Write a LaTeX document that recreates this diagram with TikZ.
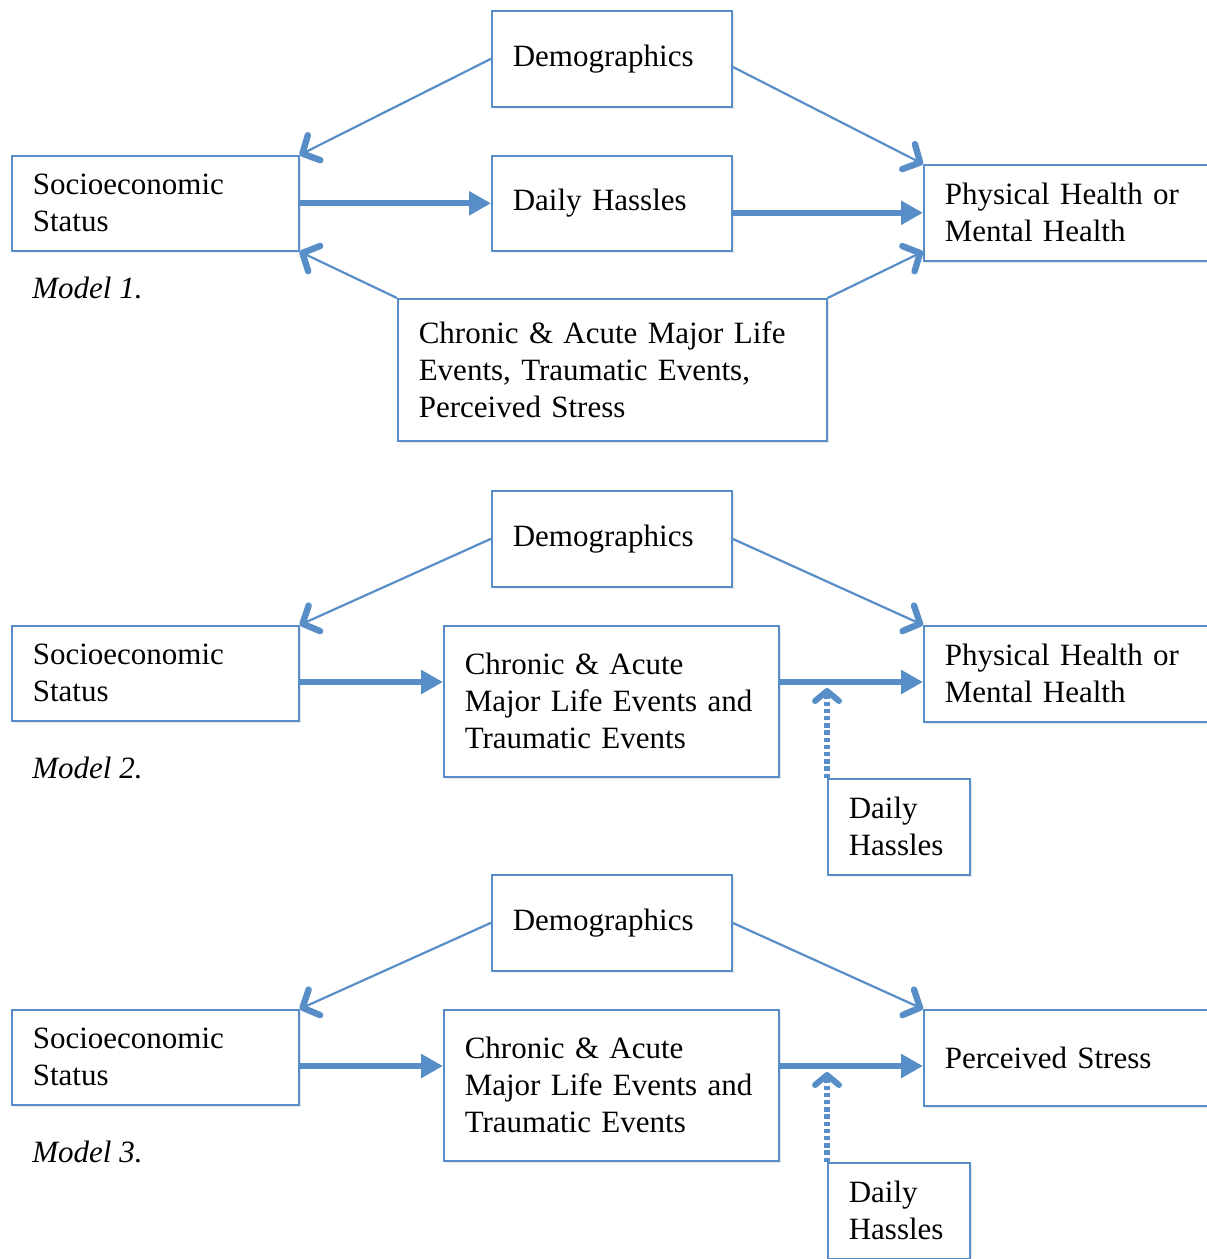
\documentclass[tikz,border=0pt]{standalone}
\usepackage{fontspec}
\setmainfont{Liberation Serif}
\usetikzlibrary{arrows.meta,shadows}
\definecolor{boxblue}{RGB}{88,142,200}
\tikzset{
  box/.style={draw=boxblue, line width=0.8pt, fill=white, anchor=north west, inner xsep=10.5pt, inner ysep=0pt, align=left, font=\fontsize{15.5}{18.5}\selectfont, drop shadow={opacity=0.18, shadow xshift=1pt, shadow yshift=-1.2pt}},
  caption/.style={anchor=base west, inner sep=0, font=\fontsize{15.5}{18.5}\selectfont\itshape},
  barbtip/.tip={Straight Barb[length=6.5pt, width=14pt, line width=3.2pt 0 0, round]},
  dottip/.tip={Straight Barb[length=5pt, width=12pt, line width=3pt 0 0, round]},
  link/.style={draw=boxblue, line width=1.1pt, -barbtip},
  mainlink/.style={draw=boxblue, line width=3pt, -{Triangle[length=11pt,width=11.5pt]}},
  dotlink/.style={draw=boxblue, line width=3pt, line cap=butt, dash pattern=on 2.2pt off 1.4pt, -dottip}
}

\begin{document}
\begin{tikzpicture}[x=0.5pt,y=-0.5pt]
\useasboundingbox (0,0) rectangle (1206,1259);
% Model 1
\node[box, text width=99pt, minimum height=48pt] (demoA) at (491,10) {Demographics};
\node[box, text width=122.5pt, minimum height=47.5pt] (sesA) at (11,155) {Socioeconomic\\Status};
\node[box, text width=99pt, minimum height=47.5pt] (dhA) at (491,155) {Daily Hassles};
\node[box, text width=132pt, minimum height=48pt] (phA) at (923,164) {Physical Health or\\Mental Health};
\node[box, text width=193.5pt, minimum height=71pt] (chA) at (397,298) {Chronic \& Acute Major Life\\Events, Traumatic Events,\\Perceived Stress};
\node[caption] (capA) at (32,298) {Model 1.};
\draw[link] (demoA.west)--(sesA.north east);
\draw[link] ([yshift=-4pt]demoA.east)--(phA.north west);
\draw[mainlink] (sesA.east)--(dhA.west);
\draw[mainlink] (dhA.east |- phA.west)--(phA.west);
\draw[link] (chA.north west)--(sesA.south east);
\draw[link] (chA.north east)--([yshift=5pt]phA.south west);
% Model 2
\node[box, text width=99pt, minimum height=48pt] (demoB) at (491,490) {Demographics};
\node[box, text width=122.5pt, minimum height=47.5pt] (sesB) at (11,625) {Socioeconomic\\Status};
\node[box, text width=146.5pt, minimum height=75.5pt] (chB) at (443,625) {Chronic \& Acute\\Major Life Events and\\Traumatic Events};
\node[box, text width=132pt, minimum height=48pt] (phB) at (923,625) {Physical Health or\\Mental Health};
\node[box, text width=50pt, minimum height=48pt] (dhB) at (827,778) {Daily\\Hassles};
\node[caption] (capB) at (32,778) {Model 2.};
\coordinate (midB) at (0,682);
\draw[link] (demoB.west)--(sesB.north east);
\draw[link] (demoB.east)--(phB.north west);
\draw[mainlink] (sesB.east |- midB)--(chB.west |- midB);
\draw[mainlink] (chB.east |- midB)--(phB.west |- midB);
\draw[dotlink] (dhB.north west)--([yshift=-3pt]dhB.north west |- midB);
% Model 3
\node[box, text width=99pt, minimum height=48pt] (demoC) at (491,874) {Demographics};
\node[box, text width=122.5pt, minimum height=47.5pt] (sesC) at (11,1009) {Socioeconomic\\Status};
\node[box, text width=146.5pt, minimum height=75.5pt] (chC) at (443,1009) {Chronic \& Acute\\Major Life Events and\\Traumatic Events};
\node[box, text width=132pt, minimum height=48pt] (psC) at (923,1009) {Perceived Stress};
\node[box, text width=50pt, minimum height=48pt] (dhC) at (827,1162) {Daily\\Hassles};
\node[caption] (capC) at (32,1162) {Model 3.};
\coordinate (midC) at (0,1066);
\draw[link] (demoC.west)--(sesC.north east);
\draw[link] (demoC.east)--(psC.north west);
\draw[mainlink] (sesC.east |- midC)--(chC.west |- midC);
\draw[mainlink] (chC.east |- midC)--(psC.west |- midC);
\draw[dotlink] (dhC.north west)--([yshift=-3pt]dhC.north west |- midC);
\end{tikzpicture}
\end{document}
